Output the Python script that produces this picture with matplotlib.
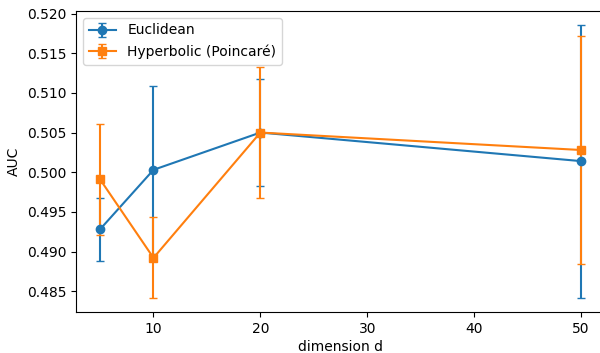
import matplotlib
matplotlib.use("Agg")
import matplotlib.pyplot as plt

# dimensions and AUC results (mean +- std)
dims = [5, 10, 20, 50]
euc_auc = [0.4928, 0.5003, 0.5050, 0.5014]
euc_err = [0.0040, 0.0106, 0.0068, 0.0172]
hyp_auc = [0.4991, 0.4892, 0.5050, 0.5028]
hyp_err = [0.0070, 0.0051, 0.0083, 0.0144]

fig = plt.figure(figsize=(6, 3.53), dpi=100)
ax = fig.add_axes([76 / 600, 1 - 312 / 353, 529 / 600, 301 / 353])

ax.errorbar(dims, euc_auc, yerr=euc_err, marker='o', capsize=3, label='Euclidean')
ax.errorbar(dims, hyp_auc, yerr=hyp_err, marker='s', capsize=3, label='Hyperbolic (Poincaré)')

ax.set_xlabel("dimension d", labelpad=3)
ax.set_ylabel("AUC")
ax.legend(loc='upper left')

fig.savefig("out.png", dpi=100)
